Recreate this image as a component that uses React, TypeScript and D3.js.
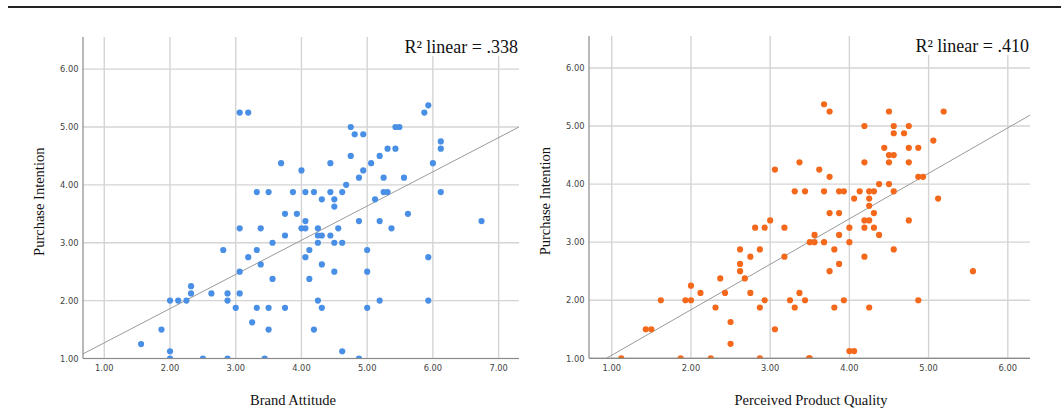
import React from "react";
import * as d3 from "d3";

const W = 1061;
const H = 414;

// --- Brand Attitude vs Purchase Intention ---
const brandAttitude = [
  3.06, 3.19, 3.69, 4.0, 3.32, 3.5, 3.87, 4.06, 4.19, 4.31, 4.44, 4.5, 4.62, 4.68, 4.44, 4.75, 4.81, 4.94,
  4.75, 4.875, 4.94, 5.06, 5.19, 5.31, 5.43, 5.49, 5.43, 5.25, 5.56, 5.25, 5.31, 5.12, 5.87, 5.93, 6.0,
  6.12, 6.12, 6.12,
  3.75, 3.93, 3.06, 3.38, 3.75, 3.56, 2.81, 3.32, 3.19, 3.38, 3.06, 3.56, 2.32, 2.32, 2.63, 2.875, 3.06,
  2.0, 2.125, 2.25, 2.875, 3.0, 3.32, 3.5, 3.75, 3.25, 3.5, 1.87, 1.56, 2.0, 2.0, 2.5, 2.875, 3.44,
  4.5, 5.62, 4.06, 4.875, 5.19, 6.74, 4.0, 4.06, 4.25, 4.56, 5.37, 4.25, 4.31, 4.44, 4.25, 4.5, 4.62,
  4.12, 5.0, 4.06, 5.93, 4.31, 4.5, 5.0, 4.12, 4.25, 5.19, 5.93, 4.31, 5.0, 4.19, 4.62, 4.875,
];
const intentionA = [
  5.25, 5.25, 4.375, 4.25, 3.875, 3.875, 3.875, 3.875, 3.875, 3.75, 3.875, 3.75, 3.875, 4.0, 4.375, 5.0, 4.875, 4.875,
  4.5, 4.125, 4.25, 4.375, 4.5, 4.625, 5.0, 5.0, 4.625, 4.125, 4.125, 3.875, 3.875, 3.75, 5.25, 5.375, 4.375,
  4.75, 4.625, 3.875,
  3.5, 3.5, 3.25, 3.25, 3.125, 3.0, 2.875, 2.875, 2.75, 2.625, 2.5, 2.375, 2.25, 2.125, 2.125, 2.125, 2.125,
  2.0, 2.0, 2.0, 2.0, 1.875, 1.875, 1.875, 1.875, 1.625, 1.5, 1.5, 1.25, 1.125, 1.0, 1.0, 1.0, 1.0,
  3.625, 3.5, 3.375, 3.375, 3.375, 3.375, 3.25, 3.25, 3.25, 3.25, 3.25, 3.125, 3.125, 3.125, 3.0, 3.0, 3.0,
  2.875, 2.875, 2.75, 2.75, 2.625, 2.5, 2.5, 2.375, 2.0, 2.0, 2.0, 1.875, 1.875, 1.5, 1.125, 1.0,
];

// --- Perceived Product Quality vs Purchase Intention ---
const productQuality = [
  3.06, 3.37, 3.31, 3.44, 3.68, 3.75, 3.62, 3.75, 3.68, 3.87, 3.93, 4.13, 4.25, 4.31, 4.56, 4.06, 4.25,
  4.19, 4.19, 4.375, 4.5, 4.44, 4.5, 4.56, 4.5, 4.5, 4.56, 4.56, 4.69, 4.75, 4.75, 4.75, 4.87, 5.06, 5.19,
  4.87, 4.93, 5.12,
  2.81, 2.93, 3.0, 3.18, 2.62, 2.87, 2.75, 3.18, 2.62, 2.62, 2.68, 2.37, 2.0, 2.12, 2.43, 2.75, 3.37,
  1.62, 1.93, 2.0, 2.93, 3.25, 3.44, 2.31, 2.87, 3.31, 2.5, 1.43, 1.5, 3.06, 2.5, 1.12, 1.87, 2.25, 2.87, 3.49,
  4.25, 3.75, 3.87, 4.31, 4.19, 4.25, 4.75, 4.0, 4.19, 4.31, 3.56, 3.87, 4.375, 3.5, 3.56, 3.68, 4.0,
  3.81, 4.56, 4.19, 3.87, 3.75, 5.56, 3.93, 4.87, 3.81, 4.25, 4.0, 4.06, 3.5,
];
const intentionB = [
  4.25, 4.375, 3.875, 3.875, 5.375, 5.25, 4.25, 4.125, 3.875, 3.875, 3.875, 3.875, 3.875, 3.875, 3.875, 3.75, 3.75,
  4.375, 5.0, 4.0, 4.0, 4.625, 4.5, 4.5, 4.375, 5.25, 5.0, 4.875, 4.875, 5.0, 4.625, 4.375, 4.625, 4.75, 5.25,
  4.125, 4.125, 3.75,
  3.25, 3.25, 3.375, 3.25, 2.875, 2.875, 2.75, 2.75, 2.625, 2.5, 2.375, 2.375, 2.25, 2.125, 2.125, 2.125, 2.125,
  2.0, 2.0, 2.0, 2.0, 2.0, 2.0, 1.875, 1.875, 1.875, 1.625, 1.5, 1.5, 1.5, 1.25, 1.0, 1.0, 1.0, 1.0, 1.0,
  3.625, 3.5, 3.5, 3.5, 3.375, 3.375, 3.375, 3.25, 3.25, 3.25, 3.125, 3.125, 3.125, 3.0, 3.0, 3.0, 3.0,
  2.875, 2.875, 2.75, 2.625, 2.5, 2.5, 2.0, 2.0, 1.875, 1.875, 1.125, 1.125, 1.0,
];

const ticksA = ["1.00", "2.00", "3.00", "4.00", "5.00", "6.00", "7.00"];
const ticksB = ["1.00", "2.00", "3.00", "4.00", "5.00", "6.00"];
const ticksY = ["1.00", "2.00", "3.00", "4.00", "5.00", "6.00"];

// fit line [intercept, slope] as drawn by SPSS
const fitA = [0.68, 0.591];
const fitB = [0.27, 0.783];

const tickFont = "'DejaVu Sans', sans-serif";
const serif = "'Liberation Serif', 'Times New Roman', serif";

type PanelProps = {
  id: string;
  xs: number[];
  ys: number[];
  xDomain: [number, number];
  yDomain: [number, number];
  left: number;
  right: number;
  top: number;
  bottom: number;
  xTicks: string[];
  fit: number[];
  color: string;
  xTitle: string;
  xTitleX: number;
  r2: string;
};

function Panel(p: PanelProps) {
  const x = d3.scaleLinear().domain(p.xDomain).range([p.left, p.right]);
  const y = d3.scaleLinear().domain(p.yDomain).range([p.bottom, p.top]);
  const line = d3.line<number>().x((v) => x(v)).y((v) => y(p.fit[0] + p.fit[1] * v));
  const grid = "#d4d4d4";
  const midY = (p.top + p.bottom) / 2;
  const clip = `url(#clip-${p.id})`;

  return (
    <g>
      <clipPath id={`clip-${p.id}`}>
        <rect x={p.left} y={p.top - 5} width={p.right - p.left + 5} height={p.bottom - p.top + 5} />
      </clipPath>
      {/* grid */}
      {p.xTicks.map((t) => (
        <line key={"gx" + t} x1={x(+t)} x2={x(+t)} y1={p.top} y2={p.bottom} stroke={grid} strokeWidth={1.4} />
      ))}
      {ticksY.map((t) => (
        <line key={"gy" + t} x1={p.left} x2={p.right} y1={y(+t)} y2={y(+t)} stroke={grid} strokeWidth={1.4} />
      ))}
      {/* R² box covers the grid */}
      <rect x={p.right - 118} y={p.top} width={118} height={19} fill="#fff" />
      <text x={p.right - 1} y={p.top + 15.5} textAnchor="end" fontFamily={serif} fontSize={18} fill="#111">
        {p.r2}
      </text>
      {/* fit line */}
      <path d={line(p.xDomain) || ""} fill="none" stroke="#9a9a9a" strokeWidth={1} clipPath={clip} />
      {/* points */}
      <g clipPath={clip}>
        {p.xs.map((v, i) => (
          <circle key={i} cx={x(v)} cy={y(p.ys[i])} r={3.1} fill={p.color} />
        ))}
      </g>
      {/* axes */}
      <line x1={p.left} x2={p.left} y1={p.top} y2={p.bottom} stroke="#8a8a8a" strokeWidth={1.2} />
      <line x1={p.left} x2={p.right} y1={p.bottom} y2={p.bottom} stroke="#8a8a8a" strokeWidth={1.2} />
      {/* tick labels */}
      {p.xTicks.map((t) => (
        <text key={"tx" + t} x={x(+t)} y={p.bottom + 12.5} textAnchor="middle" fontFamily={tickFont} fontSize={8.3} fill="#444">
          {t}
        </text>
      ))}
      {ticksY.map((t) => (
        <text key={"ty" + t} x={p.left - 4.5} y={y(+t) + 3.2} textAnchor="end" fontFamily={tickFont} fontSize={8.3} fill="#444">
          {t}
        </text>
      ))}
      {/* titles */}
      <text x={p.xTitleX} y={405} textAnchor="middle" fontFamily={serif} fontSize={14.5} fill="#111">
        {p.xTitle}
      </text>
      <text
        transform={`translate(${p.left - 39},${midY + 4}) rotate(-90)`}
        textAnchor="middle"
        fontFamily={serif}
        fontSize={14.5}
        fill="#111"
      >
        Purchase Intention
      </text>
    </g>
  );
}

export default function App() {
  return (
    <svg
      width={W}
      height={H}
      style={{ position: "absolute", left: 0, top: 0, display: "block", background: "#fff" }}
    >
      <line x1={8} x2={W} y1={7} y2={7} stroke="#222" strokeWidth={2} />
      <Panel
        id="a"
        xs={brandAttitude}
        ys={intentionA}
        xDomain={[0.676, 7.31]}
        yDomain={[1, 6.555]}
        left={83}
        right={519}
        top={37}
        bottom={358.5}
        xTicks={ticksA}
        fit={fitA}
        color="#4a8fe6"
        xTitle="Brand Attitude"
        xTitleX={293}
        r2="R² linear = .338"
      />
      <Panel
        id="b"
        xs={productQuality}
        ys={intentionB}
        xDomain={[0.713, 6.28]}
        yDomain={[1, 6.55]}
        left={589}
        right={1030}
        top={36}
        bottom={358.3}
        xTicks={ticksB}
        fit={fitB}
        color="#f4681c"
        xTitle="Perceived Product Quality"
        xTitleX={811}
        r2="R² linear = .410"
      />
    </svg>
  );
}
